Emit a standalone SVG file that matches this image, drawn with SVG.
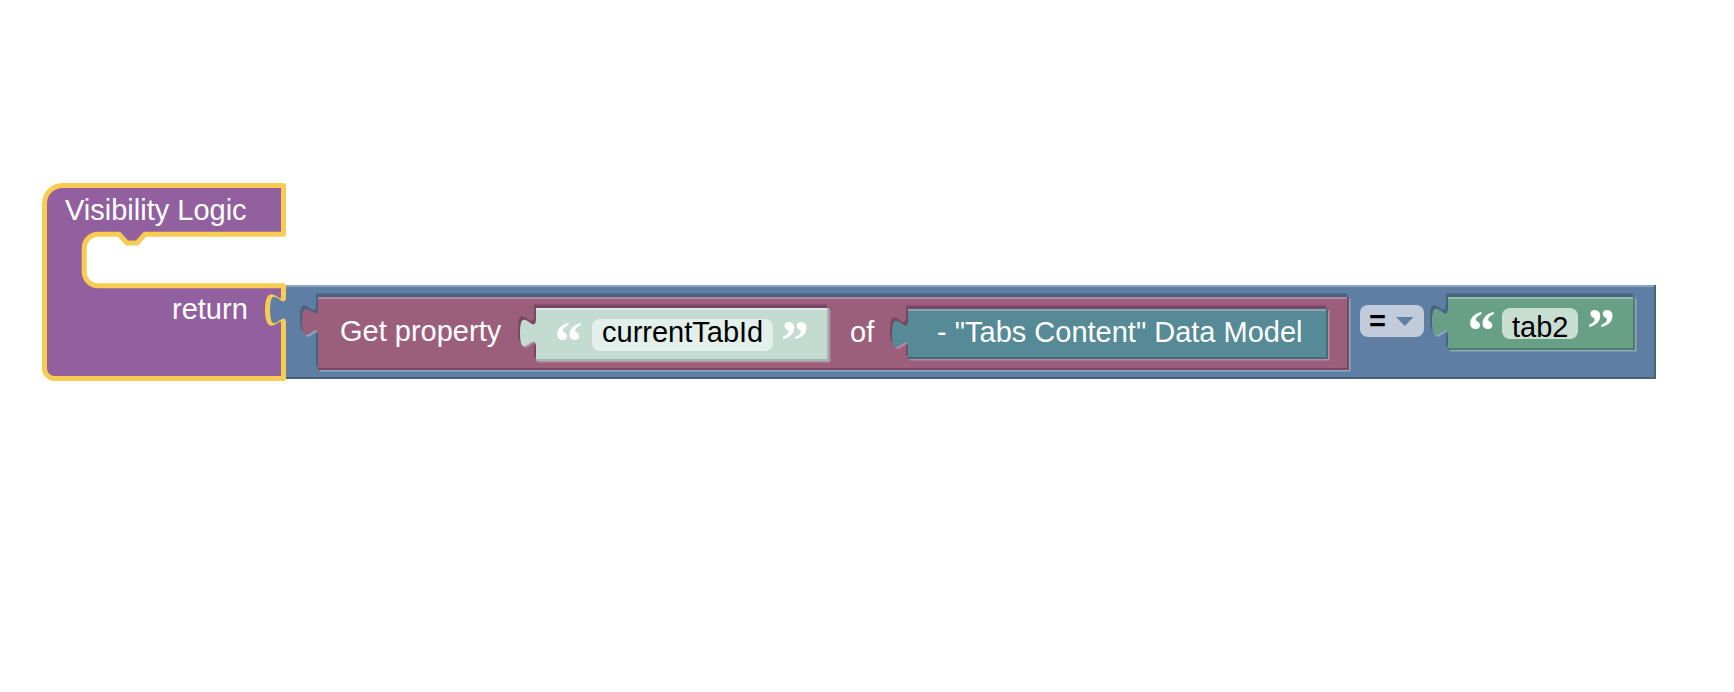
<svg xmlns="http://www.w3.org/2000/svg" xmlns:xlink="http://www.w3.org/1999/xlink" width="1734" height="692" viewBox="0 0 1734 692">
<defs>
<style>
.lbl{font-family:"Liberation Sans",Arial,Helvetica,sans-serif;font-size:29px;fill:#ffffff}
.fld{font-family:"Liberation Sans",Arial,Helvetica,sans-serif;font-size:29px;fill:#000000}
.q{font-family:"Liberation Serif","Times New Roman",serif;font-weight:bold;font-size:56px;fill:#ffffff;text-anchor:middle}
</style>
<path id="p-blue" d="M286,285 H1656 V379 H286 V325 c0,-20 -16,16 -16,-15 s16,5 16,-15 Z"/>
<path id="p-pink" d="M318,297 H1349 V370 H318 V337 c0,-20 -16,16 -16,-15 s16,5 16,-15 Z"/>
<path id="p-str1" d="M536,308 H829 V361 H536 V348 c0,-20 -16,16 -16,-15 s16,5 16,-15 Z"/>
<path id="p-teal" d="M908,309 H1328 V359 H908 V349 c0,-20 -16,16 -16,-15 s16,5 16,-15 Z"/>
<path id="p-str2" d="M1448,297 H1635 V350 H1448 V337 c0,-20 -16,16 -16,-15 s16,5 16,-15 Z"/>
</defs>
<rect width="1734" height="692" fill="#ffffff"/>

<g id="node-visibility-logic">
<path d="M44.5,203.5 A18,18 0 0 1 62.5,185.5 H283.5 V234.2 H145 L137,243 H127 L119,234.2 H98 A14,14 0 0 0 84.2,248.2 V272 A14,14 0 0 0 98,285.8 H283.5 V295 c0,20 -16,-16 -16,15 s16,-5 16,15 V378.5 H54.5 A10,10 0 0 1 44.5,368.5 Z" fill="#925f9f" stroke="#f8cb52" stroke-width="5" stroke-linejoin="round"/>
<text class="lbl" x="65" y="220">Visibility Logic</text>
<text class="lbl" x="172" y="319">return</text>
</g>

<g id="node-compare">
<use xlink:href="#p-blue" fill="#5e7fa3"/>
<rect x="286" y="285" width="1370" height="2" fill="#8aa3be"/>
<rect x="286" y="377" width="1370" height="2" fill="#47627f"/>
<rect x="1654" y="285" width="2" height="94" fill="#47627f"/>
<g id="compare-operator">
<rect x="1360" y="305" width="64" height="32" rx="8" fill="#c1cbdb"/>
<text class="fld" x="1369" y="331" font-weight="bold">=</text>
<polygon points="1396,317 1413.5,317 1404.75,326" fill="#5e7fa3"/>
</g>
</g>

<g id="node-get-property">
<use xlink:href="#p-pink" fill="#48637f" transform="translate(-2,-3.5)"/>
<use xlink:href="#p-pink" fill="#8fa7c1" transform="translate(1.5,1.5)"/>
<use xlink:href="#p-pink" fill="#9b5f7c"/>
<rect x="318" y="297" width="1031" height="2" fill="#b4879d"/>
<rect x="318" y="368" width="1031" height="2" fill="#7b4862"/>
<rect x="1347" y="297" width="2" height="73" fill="#7b4862"/>
<text class="lbl" x="340" y="340.5">Get property</text>
<text class="lbl" x="850" y="341.5">of</text>
</g>

<g id="node-text-currentTabId">
<use xlink:href="#p-str1" fill="#7a4762" transform="translate(-2,-3.5)"/>
<use xlink:href="#p-str1" fill="#b78ca2" transform="translate(1.5,1.5)"/>
<use xlink:href="#p-str1" fill="#c3dbd1"/>
<rect x="536" y="308" width="293" height="2" fill="#dcebe5"/>
<rect x="536" y="359" width="293" height="2" fill="#a0b7ad"/>
<rect x="827" y="308" width="2" height="53" fill="#a0b7ad"/>
<text class="q" x="568.5" y="361">“</text>
<rect x="592" y="319" width="181" height="32" rx="8" fill="#e3efea"/>
<text class="fld" x="602" y="342">currentTabId</text>
<text class="q" x="795" y="359.7">”</text>
</g>

<g id="node-tabs-content">
<use xlink:href="#p-teal" fill="#7a4762" transform="translate(-2,-3.5)"/>
<use xlink:href="#p-teal" fill="#b78ca2" transform="translate(1.5,1.5)"/>
<use xlink:href="#p-teal" fill="#558a96"/>
<rect x="908" y="309" width="420" height="2" fill="#82a9b2"/>
<rect x="908" y="357" width="420" height="2" fill="#406c76"/>
<rect x="1326" y="309" width="2" height="50" fill="#406c76"/>
<text class="lbl" x="937" y="341.5">- &quot;Tabs Content&quot; Data Model</text>
</g>

<g id="node-text-tab2">
<use xlink:href="#p-str2" fill="#48637f" transform="translate(-2,-3.5)"/>
<use xlink:href="#p-str2" fill="#8fa7c1" transform="translate(1.5,1.5)"/>
<use xlink:href="#p-str2" fill="#67a086"/>
<rect x="1448" y="297" width="187" height="2" fill="#92bca8"/>
<rect x="1448" y="348" width="187" height="2" fill="#507f69"/>
<rect x="1633" y="297" width="2" height="53" fill="#507f69"/>
<text class="q" x="1481.5" y="349.7">“</text>
<rect x="1502" y="308" width="76" height="31" rx="8" fill="#c9ded3"/>
<text class="fld" x="1512" y="336.5">tab2</text>
<text class="q" x="1601" y="348">”</text>
</g>

<g id="connectors"/>
</svg>
